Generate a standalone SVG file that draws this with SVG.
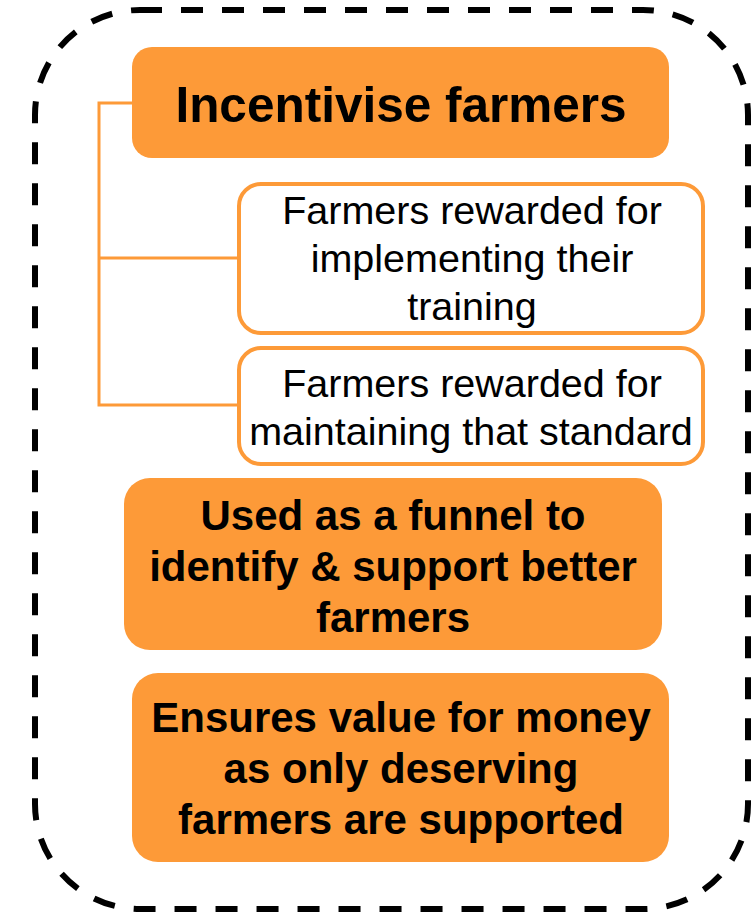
<svg xmlns="http://www.w3.org/2000/svg" width="754" height="913" viewBox="0 0 754 913">
  <style>
    .frame { fill: none; stroke: #000; stroke-width: 6; stroke-dasharray: 22 19; }
    .main { fill: #FD9A38; }
    .sub { fill: #fff; stroke: #FD9A38; stroke-width: 4; }
    .link { fill: none; stroke: #FD9A38; stroke-width: 3; }
    .bold { font-family: "Liberation Sans", Arial, sans-serif; font-weight: bold; fill: #000; text-anchor: middle; }
    .reg { font-family: "Liberation Sans", Arial, sans-serif; font-size: 39.5px; fill: #000; text-anchor: middle; }
  </style>

  <!-- dashed outer frame -->
  <rect class="frame" x="35" y="10" width="713" height="899" rx="105" ry="105"/>

  <!-- tree connectors from the headline box to its two children -->
  <g id="connectors">
    <path class="link" d="M132,103 H99 V405 H239"/>
    <path class="link" d="M99,258 H239"/>
  </g>

  <g id="incentivise">
    <rect class="main" x="132" y="47" width="537" height="111" rx="20"/>
    <text class="bold" x="401" y="122" font-size="49.5">Incentivise farmers</text>
  </g>

  <g id="reward-training">
    <rect class="sub" x="239" y="184" width="464" height="149" rx="22"/>
    <text class="reg" x="472" y="224">Farmers rewarded for</text>
    <text class="reg" x="472" y="272">implementing their</text>
    <text class="reg" x="472" y="320">training</text>
  </g>

  <g id="reward-standard">
    <rect class="sub" x="239" y="348" width="464" height="116" rx="22"/>
    <text class="reg" x="472" y="397">Farmers rewarded for</text>
    <text class="reg" x="471" y="445">maintaining that standard</text>
  </g>

  <g id="funnel">
    <rect class="main" x="124" y="478" width="538" height="172" rx="26"/>
    <text class="bold" x="393" y="530" font-size="42">Used as a funnel to</text>
    <text class="bold" x="393" y="581" font-size="42">identify &amp; support better</text>
    <text class="bold" x="393" y="632" font-size="42">farmers</text>
  </g>

  <g id="value-for-money">
    <rect class="main" x="132" y="673" width="537" height="189" rx="26"/>
    <text class="bold" x="401" y="732" font-size="42">Ensures value for money</text>
    <text class="bold" x="401" y="783" font-size="42">as only deserving</text>
    <text class="bold" x="401" y="834" font-size="42">farmers are supported</text>
  </g>
</svg>
